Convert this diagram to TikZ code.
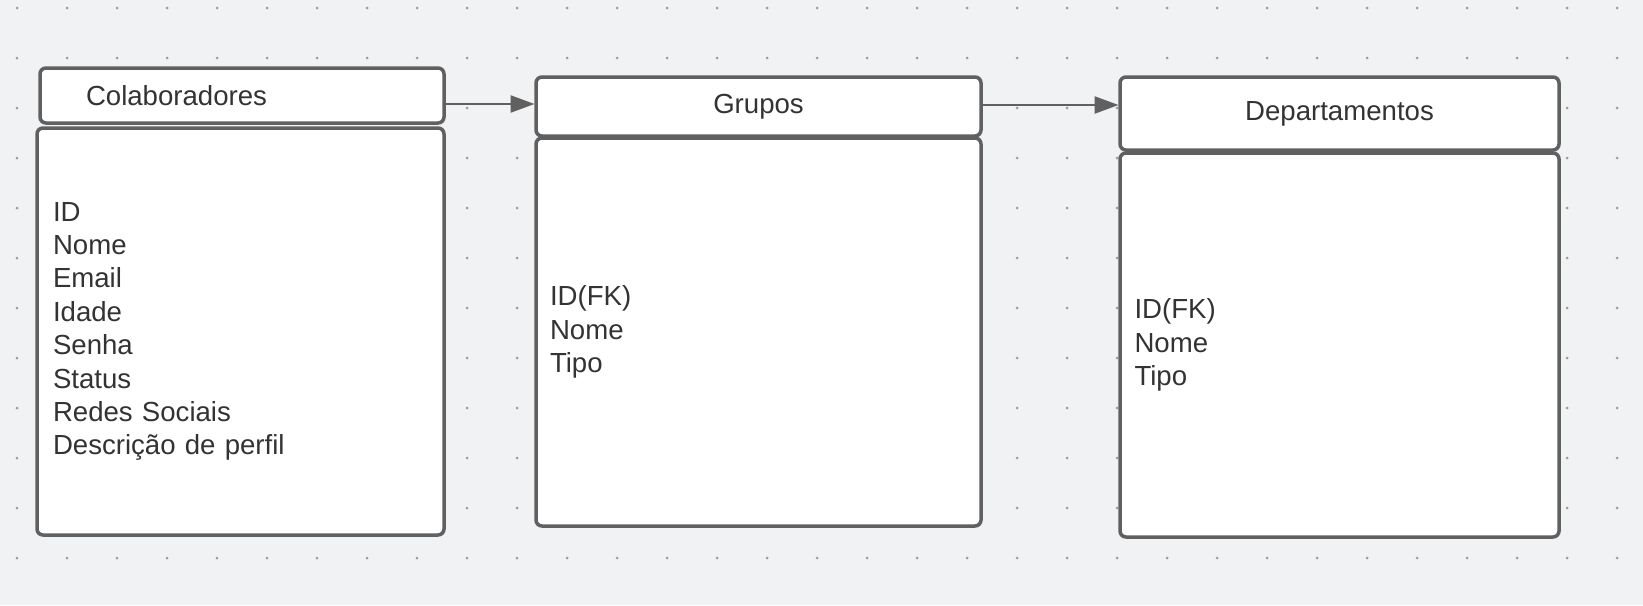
\documentclass[tikz,border=0pt]{standalone}
\usepackage{fontspec}
\setmainfont{Liberation Sans}
\usetikzlibrary{arrows.meta,positioning}
\definecolor{boardbg}{HTML}{F1F2F4}
\definecolor{boxline}{HTML}{606060}
\definecolor{boardtext}{HTML}{333333}
\definecolor{griddot}{HTML}{9C9C9C}

\tikzset{
    tablebox/.style={draw=boxline, line width=3.5pt, fill=white, rounded corners=6pt,
        inner sep=0pt, outer sep=0pt, anchor=north west, text=boardtext,
        font=\fontsize{27.6}{33.4}\selectfont},
    tablehead/.style={tablebox, minimum width=#1},
    tablebody/.style={tablebox, align=left},
    flow/.style={draw=boxline, line width=2.5pt, -{Triangle[length=24pt,width=17pt]}, shorten >=1.5pt}
}

\begin{document}
\begin{tikzpicture}[x=1pt,y=-1pt]
        % board with dot grid
        \fill[boardbg] (0,0) rectangle (1643,605);
        \useasboundingbox (0,0) rectangle (1643,605);
        \foreach \gx in {17,67,...,1617}
            \foreach \gy in {8,58,...,558}
                \fill[griddot] (\gx,\gy) circle (1.5pt);

        % tables
        \node[tablebox, minimum width=404pt, minimum height=55pt, text width=312pt, inner xsep=46pt, align=left] (colab) at (40,68) {Colaboradores};
        \node[tablebody, minimum height=407pt, text width=375pt, inner xsep=16pt] (colabbody) at (37,128)
            {ID\\Nome\\Email\\Idade\\Senha\\Status\\Redes Sociais\\Descrição de perfil};

        \node[tablehead=445pt, minimum height=59pt] (grupos) at (536,77) {Grupos};
        \node[tablebody, minimum height=388pt, text width=417pt, inner xsep=14pt] (gruposbody) at (536,138)
            {ID(FK)\\Nome\\Tipo};

        \node[tablehead=439pt, minimum height=73pt] (dep) at (1120,77) {Departamentos};
        \node[tablebody, minimum height=384pt, text width=410pt, inner xsep=14.5pt] (depbody) at (1120,153)
            {ID(FK)\\Nome\\Tipo};

        % relations
        \draw[flow] ([yshift=-8.5pt]colab.east) -- ([yshift=2.5pt]grupos.west);
        \draw[flow] ([yshift=1.5pt]grupos.east) -- ([yshift=8.5pt]dep.west);
\end{tikzpicture}
\end{document}
